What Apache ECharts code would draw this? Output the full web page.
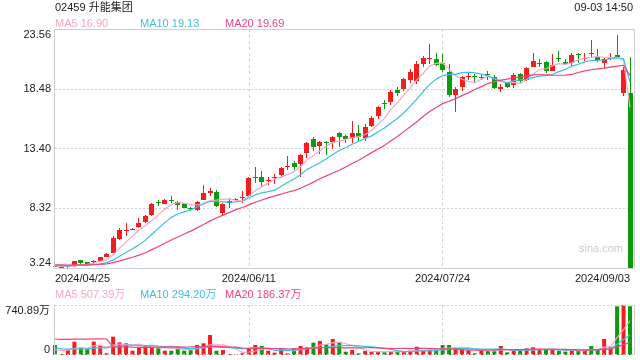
<!DOCTYPE html>
<html><head><meta charset="utf-8">
<script src="https://cdn.jsdelivr.net/npm/echarts@6/dist/echarts.min.js"></script>
<style>html,body{margin:0;padding:0;background:#fff}#c{width:640px;height:360px}</style>
</head><body><div id="c"></div>
<script>
const dates = ['2024/04/25','2024/04/26','2024/04/29','2024/04/30',
'2024/05/02','2024/05/03','2024/05/06','2024/05/07','2024/05/08','2024/05/09','2024/05/10','2024/05/13','2024/05/14','2024/05/16','2024/05/17','2024/05/20','2024/05/21','2024/05/22','2024/05/23','2024/05/24','2024/05/27','2024/05/28','2024/05/29','2024/05/30','2024/05/31',
'2024/06/03','2024/06/04','2024/06/05','2024/06/06','2024/06/07','2024/06/11','2024/06/12','2024/06/13','2024/06/14','2024/06/17','2024/06/18','2024/06/19','2024/06/20','2024/06/21','2024/06/24','2024/06/25','2024/06/26','2024/06/27','2024/06/28',
'2024/07/02','2024/07/03','2024/07/04','2024/07/05','2024/07/08','2024/07/09','2024/07/10','2024/07/11','2024/07/12','2024/07/15','2024/07/16','2024/07/17','2024/07/18','2024/07/19','2024/07/22','2024/07/23','2024/07/24','2024/07/25','2024/07/26','2024/07/29','2024/07/30','2024/07/31',
'2024/08/01','2024/08/02','2024/08/05','2024/08/06','2024/08/07','2024/08/08','2024/08/09','2024/08/12','2024/08/13','2024/08/14','2024/08/15','2024/08/16','2024/08/19','2024/08/20','2024/08/21','2024/08/22','2024/08/23','2024/08/26','2024/08/27','2024/08/28','2024/08/29','2024/08/30',
'2024/09/02','2024/09/03'];

const opens = [3.38,3.29,3.31,3.40,3.90,3.72,3.72,3.86,4.20,4.55,
5.70,6.40,6.52,6.70,7.18,7.75,8.86,8.70,9.00,8.88,
8.74,8.30,8.17,9.02,9.65,9.73,7.90,8.80,9.02,9.20,
9.35,10.90,10.95,10.60,10.90,11.15,11.80,12.20,12.08,13.04,
14.18,13.62,13.95,13.93,14.69,14.49,14.27,14.74,14.27,15.32,
16.16,17.28,17.38,18.40,18.45,19.25,19.10,20.60,21.00,21.00,
20.64,19.93,17.95,18.60,19.50,19.55,19.45,19.70,19.50,18.43,
19.00,18.80,19.73,19.22,20.35,20.60,20.78,20.02,21.10,20.78,
20.64,21.43,21.02,21.55,21.20,20.64,20.98,21.35,18.14,18.14];
const closes = [3.33,3.32,3.37,3.80,3.66,3.62,3.82,4.15,4.43,5.77,
6.47,6.50,6.58,7.05,7.66,8.68,8.80,9.02,8.92,8.62,
8.32,8.25,8.88,9.65,9.75,8.50,8.68,8.90,9.12,9.30,
10.87,10.95,10.55,10.70,10.98,11.77,11.88,11.85,12.85,13.84,
13.50,13.98,13.88,14.40,14.40,14.22,14.69,14.40,15.25,16.02,
16.95,17.20,18.23,18.10,19.30,19.90,20.60,21.10,21.10,20.50,
20.07,17.95,18.43,19.50,19.58,19.48,19.52,19.62,18.52,18.66,
18.66,19.65,19.16,20.22,20.84,20.66,20.02,20.50,21.04,20.56,
21.35,21.32,21.10,21.43,20.92,21.01,21.20,21.20,20.08,1.02];
const lows = [3.30,3.26,3.28,3.36,3.62,3.58,3.62,3.82,4.15,4.50,
5.60,6.00,6.45,6.65,7.10,7.70,8.55,8.65,8.75,8.17,
8.30,8.05,8.10,8.98,9.40,8.40,7.65,8.35,8.98,8.80,
9.30,10.45,10.10,10.30,10.40,10.90,11.55,11.60,11.00,12.60,
13.15,12.95,12.85,13.40,13.55,13.85,13.85,13.95,14.00,15.25,
15.95,16.72,17.10,17.90,18.30,19.00,18.90,20.30,20.60,20.40,
19.90,17.80,16.53,18.30,19.25,19.08,19.25,19.22,18.45,18.20,
18.55,18.55,18.98,19.10,20.30,20.35,19.80,19.95,20.78,20.50,
20.40,20.68,20.86,21.07,20.78,20.22,20.90,21.10,17.90,1.00];
const highs = [3.40,3.35,3.40,3.85,3.93,3.75,3.92,4.20,4.48,6.00,
6.65,7.05,6.65,7.50,7.75,8.75,9.05,9.10,9.40,8.95,
8.80,8.40,8.95,10.30,10.05,9.85,8.75,9.20,9.20,9.80,
10.95,11.85,11.50,10.95,11.20,11.85,12.80,12.35,12.95,13.95,
14.40,14.05,14.00,14.50,14.80,14.55,15.75,15.40,15.45,16.15,
17.05,17.52,18.40,18.60,19.40,20.20,20.80,21.30,22.30,21.50,
21.45,20.60,18.60,19.60,19.80,19.71,19.75,19.95,19.65,18.90,
19.05,19.82,19.80,20.30,21.55,21.05,20.85,21.43,21.71,21.00,
21.50,21.52,21.49,22.62,21.83,21.10,21.55,23.05,20.30,21.20];
// volume in 万
const volumes = [148,15,74,198,114,99,198,133,25,272,
188,173,64,114,133,114,109,64,64,114,
64,74,148,173,296,64,74,15,8,25,
99,148,133,64,35,99,25,99,133,114,
183,207,158,237,183,49,74,25,59,49,
52,45,55,48,50,64,123,64,74,84,
148,148,99,84,74,25,74,64,74,133,
40,59,70,99,114,84,74,74,64,50,
74,64,74,133,74,237,114,722,740.89,723.11];
// sessions before the window (only used for the moving averages)
const priorCloses = [3.60,3.58,3.62,3.57,3.55,3.60,3.58,3.52,3.55,3.54,3.50,3.52,3.49,3.51,3.47,3.45,3.48,3.44,3.40];
const priorVolumes = [120,95,110,130,90,105,100,106,2654,180,150,130,160,120,120,60,45,70,47];

const labelDates = ['2024/04/25','2024/06/11','2024/07/24','2024/09/03'];
const priceMin = 3.24, priceMax = 23.56, priceStep = 5.08;
const volMax = 740.89;
const titleText = '02459 升能集团';
const timeText = '09-03 14:50';
const priceLegend = ['MA5 16.90','MA10 19.13','MA20 19.69'];
const volLegend = ['MA5 507.39万','MA10 294.20万','MA20 186.37万'];
const watermark = 'sina.com';

function ma(series, prior, n) {
  const all = prior.concat(series), off = prior.length;
  return series.map(function (_, i) {
    const j = i + off, s0 = Math.max(0, j - n + 1);
    let s = 0; for (let k = s0; k <= j; k++) s += all[k];
    return +(s / (j - s0 + 1)).toFixed(3);
  });
}

const FONT = 'Arial, "Liberation Sans", "Noto Sans CJK SC", sans-serif';
const UP = '#f41d1d', DOWN = '#0b9c0b';
const C5 = '#f9a6c6', C10 = '#3cc0e2', C20 = '#f0437c';
const GRID = '#d2d2d2';

const candleData = dates.map((d, i) => [i, opens[i], closes[i], lows[i], highs[i]]);
const volData = volumes.map((v, i) => ({ value: v, itemStyle: { color: closes[i] >= opens[i] ? UP : DOWN } }));
const isLabel = (i, v) => labelDates.indexOf(v) >= 0;
const isMid = (i, v) => labelDates.indexOf(v) >= 0 && i > 0 && i < dates.length - 1;

function renderCandle(params, api) {
  const i = api.value(0), o = api.value(1), c = api.value(2), l = api.value(3), h = api.value(4);
  const cs = params.coordSys;
  const yMin = cs.y, yMax = cs.y + cs.height;
  const cl = v => Math.min(yMax, Math.max(yMin, v));
  const pO = api.coord([i, o]), pC = api.coord([i, c]), pL = api.coord([i, l]), pH = api.coord([i, h]);
  const x = Math.round(pO[0] - 0.5);
  const color = c >= o ? UP : DOWN;
  const top = Math.round(cl(Math.min(pO[1], pC[1])));
  const bot = Math.round(cl(Math.max(pO[1], pC[1])));
  const yH = Math.round(cl(pH[1])), yL = Math.round(cl(pL[1]));
  return { type: 'group', children: [
    { type: 'rect', shape: { x: x, y: yH, width: 1, height: Math.max(1, yL - yH) }, style: { fill: color } },
    { type: 'rect', shape: { x: x - 2, y: top, width: 5, height: Math.max(1, bot - top) }, style: { fill: color } }
  ] };
}

function lineS(name, data, color, xi, yi) {
  return { name, type: 'line', xAxisIndex: xi, yAxisIndex: yi, data, symbol: 'none', smooth: false,
    lineStyle: { color, width: 1.2 }, z: 5, silent: true, clip: false };
}
function txt(x, y, text, fill, align, size) {
  return { type: 'text', x, y, silent: true, z: 10,
    style: { text, fill, font: (size || 11) + 'px ' + FONT, align: align || 'left', textAlign: align || 'left', verticalAlign: 'middle', textVerticalAlign: 'middle' } };
}
const legendColors = [C5, C10, C20];
const legendX = [55, 140, 225];

const chart = echarts.init(document.getElementById('c'), null, { renderer: 'canvas' });
chart.setOption({
  animation: false,
  textStyle: { fontFamily: FONT },
  grid: [
    { left: 55, top: 29, width: 575, height: 239, outerBoundsMode: 'none', containLabel: false },
    { left: 55, top: 305, width: 575, height: 50, outerBoundsMode: 'none', containLabel: false }
  ],
  xAxis: [
    { type: 'category', gridIndex: 0, data: dates, boundaryGap: false,
      axisLine: { show: false }, axisTick: { show: false },
      axisLabel: { interval: isLabel, color: '#222', fontSize: 11, margin: 5, fontFamily: FONT,
        showMinLabel: true, showMaxLabel: true, alignMinLabel: 'left', alignMaxLabel: 'right' },
      splitLine: { show: true, interval: isMid, lineStyle: { color: GRID, type: [3, 3], width: 1 } } },
    { type: 'category', gridIndex: 1, data: dates, boundaryGap: false,
      axisLine: { show: false }, axisTick: { show: false }, axisLabel: { show: false },
      splitLine: { show: true, interval: isMid, lineStyle: { color: GRID, type: [3, 3], width: 1 } } }
  ],
  yAxis: [
    { type: 'value', gridIndex: 0, min: priceMin, max: priceMax, interval: priceStep, scale: true,
      axisLine: { show: false }, axisTick: { show: false },
      axisLabel: { formatter: v => v.toFixed(2), color: '#222', fontSize: 11, margin: 4, fontFamily: FONT,
        verticalAlignMinLabel: 'bottom', verticalAlignMaxLabel: 'top' },
      splitLine: { show: true, lineStyle: { color: GRID, type: [2, 2], width: 1 } } },
    { type: 'value', gridIndex: 1, min: 0, max: volMax, interval: volMax,
      axisLine: { show: false }, axisTick: { show: false },
      axisLabel: { formatter: v => v === 0 ? '0' : v.toFixed(2) + '万', color: '#222', fontSize: 11, margin: 5, fontFamily: FONT,
        verticalAlignMinLabel: 'bottom', verticalAlignMaxLabel: 'top' },
      splitLine: { show: false } }
  ],
  series: [
    { name: 'K', type: 'custom', xAxisIndex: 0, yAxisIndex: 0, data: candleData, clip: false,
      encode: { x: 0, y: [1, 2, 3, 4] }, renderItem: renderCandle, z: 3, silent: true },
    lineS('MA5', ma(closes, priorCloses, 5), C5, 0, 0),
    lineS('MA10', ma(closes, priorCloses, 10), C10, 0, 0),
    lineS('MA20', ma(closes, priorCloses, 20), C20, 0, 0),
    { name: 'VOL', type: 'bar', xAxisIndex: 1, yAxisIndex: 1, data: volData, barWidth: 4, clip: false },
    lineS('VMA5', ma(volumes, priorVolumes, 5), C5, 1, 1),
    lineS('VMA10', ma(volumes, priorVolumes, 10), C10, 1, 1),
    lineS('VMA20', ma(volumes, priorVolumes, 20), C20, 1, 1)
  ],
  graphic: [
    { type: 'rect', silent: true, z: 8, shape: { x: 54.5, y: 29.5, width: 580, height: 239 }, style: { fill: 'none', stroke: '#cfcfcf', lineWidth: 1 } },
    { type: 'line', silent: true, z: 8, shape: { x1: 54.5, y1: 305, x2: 54.5, y2: 355 }, style: { stroke: '#cfcfcf', lineWidth: 1 } },
    { type: 'line', silent: true, z: 8, shape: { x1: 634.5, y1: 305, x2: 634.5, y2: 355 }, style: { stroke: '#cfcfcf', lineWidth: 1 } },
    { type: 'line', silent: true, z: 8, shape: { x1: 55, y1: 305.5, x2: 634, y2: 305.5 }, style: { stroke: '#cfcfcf', lineWidth: 1, lineDash: [2, 2] } },
    { type: 'line', silent: true, z: 8, shape: { x1: 55, y1: 354.5, x2: 634, y2: 354.5 }, style: { stroke: '#cfcfcf', lineWidth: 1, lineDash: [2, 2] } },
    txt(55, 8, titleText, '#222', 'left', 11),
    txt(633, 8, timeText, '#222', 'right', 11),
    txt(legendX[0], 24, priceLegend[0], legendColors[0]),
    txt(legendX[1], 24, priceLegend[1], legendColors[1]),
    txt(legendX[2], 24, priceLegend[2], legendColors[2]),
    txt(legendX[0], 295, volLegend[0], legendColors[0]),
    txt(legendX[1], 295, volLegend[1], legendColors[1]),
    txt(legendX[2], 295, volLegend[2], legendColors[2]),
    txt(623, 249, watermark, '#cccccc', 'right', 11)
  ]
});
</script>
</body></html>
